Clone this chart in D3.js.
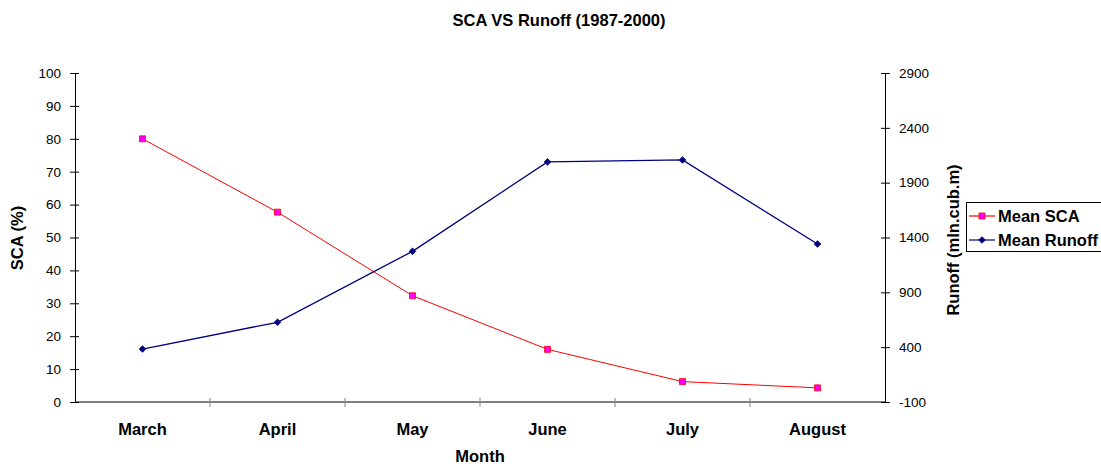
<!DOCTYPE html>
<html>
<head>
<meta charset="utf-8">
<script src="https://cdn.jsdelivr.net/npm/d3@7"></script>
<style>
  html, body { margin: 0; padding: 0; background: #fff; }
  svg { display: block; font-family: "Liberation Sans", Arial, sans-serif; }
</style>
</head>
<body>
<svg id="chart" width="1101" height="464"></svg>
<script>
// Monthly means, 1987-2000
const months = ["March", "April", "May", "June", "July", "August"];
const meanSCA = [80, 57.7, 32.3, 16.0, 6.2, 4.3];
const meanRunoff = [383, 627, 1274, 2089, 2107, 1341];
const scaTicks = [0, 10, 20, 30, 40, 50, 60, 70, 80, 90, 100];
const runoffTicks = [-100, 400, 900, 1400, 1900, 2400, 2900];

const svg = d3.select("#chart");
const plotLeft = 75, plotRight = 885, plotTop = 73, plotBottom = 402;

const x = d3.scaleBand().domain(months).range([plotLeft, plotRight]);
const yL = d3.scaleLinear().domain([0, 100]).range([plotBottom, plotTop]);
const yR = d3.scaleLinear().domain([-100, 2900]).range([plotBottom, plotTop]);
const cx = m => x(m) + x.bandwidth() / 2;

// Title
svg.append("text").attr("x", 559).attr("y", 26).attr("text-anchor", "middle")
  .attr("font-size", 16.5).attr("font-weight", "bold").text("SCA VS Runoff (1987-2000)");

// X axis: gray baseline with ticks at category boundaries
const xg = svg.append("g");
xg.append("line").attr("x1", plotLeft).attr("x2", plotRight).attr("y1", plotBottom).attr("y2", plotBottom)
  .attr("stroke", "#808080").attr("stroke-width", 2);
months.forEach((m, i) => {
  if (i > 0) {
    xg.append("line").attr("x1", x(m)).attr("x2", x(m)).attr("y1", plotBottom - 4).attr("y2", plotBottom + 5)
      .attr("stroke", "#808080").attr("stroke-width", 1);
  }
  xg.append("text").attr("x", cx(m)).attr("y", 435).attr("text-anchor", "middle")
    .attr("font-size", 16.5).attr("font-weight", "bold").text(m);
});
svg.append("text").attr("x", 480).attr("y", 462).attr("text-anchor", "middle")
  .attr("font-size", 16.5).attr("font-weight", "bold").text("Month");

const fmt = d => String(d).replace("\u2212", "-");

// Left axis
const gl = svg.append("g").attr("transform", `translate(${plotLeft},0)`)
  .call(d3.axisLeft(yL).tickValues(scaTicks).tickFormat(fmt).tickSize(5).tickSizeOuter(0).tickPadding(9));
gl.select(".domain").attr("stroke", "#000");
gl.selectAll(".tick line").attr("x2", -5).attr("x1", 4).attr("stroke", "#000");
gl.selectAll(".tick text").attr("font-size", 13.5).attr("font-family", "Liberation Sans, Arial, sans-serif").attr("fill", "#000");
svg.append("text").attr("transform", "translate(23,238) rotate(-90)").attr("text-anchor", "middle")
  .attr("font-size", 16.5).attr("font-weight", "bold").text("SCA (%)");

// Right axis
const gr = svg.append("g").attr("transform", `translate(${plotRight},0)`)
  .call(d3.axisRight(yR).tickValues(runoffTicks).tickFormat(fmt).tickSize(5).tickSizeOuter(0).tickPadding(9));
gr.select(".domain").attr("stroke", "#000");
gr.selectAll(".tick line").attr("x1", -4).attr("x2", 5).attr("stroke", "#000");
gr.selectAll(".tick text").attr("font-size", 13.5).attr("font-family", "Liberation Sans, Arial, sans-serif").attr("fill", "#000");
svg.append("text").attr("transform", "translate(959,240) rotate(-90)").attr("text-anchor", "middle")
  .attr("font-size", 16.5).attr("font-weight", "bold").text("Runoff (mln.cub.m)");

// Series lines
const lineSCA = d3.line().x((d, i) => cx(months[i])).y(d => yL(d));
const lineRun = d3.line().x((d, i) => cx(months[i])).y(d => yR(d));
svg.append("path").attr("d", lineSCA(meanSCA)).attr("fill", "none").attr("stroke", "#FF0000").attr("stroke-width", 1);
svg.append("path").attr("d", lineRun(meanRunoff)).attr("fill", "none").attr("stroke", "#000080").attr("stroke-width", 1.3);

// Markers
const sq = d3.symbol().type(d3.symbolSquare).size(36);
const dm = d3.symbol().type(d3.symbolSquare).size(22);
svg.selectAll(".sca").data(meanSCA).enter().append("path")
  .attr("d", sq).attr("transform", (d, i) => `translate(${cx(months[i])},${yL(d)})`)
  .attr("fill", "#FF00FF").attr("stroke", "#FF0000").attr("stroke-width", 0.8);
svg.selectAll(".run").data(meanRunoff).enter().append("path")
  .attr("d", dm).attr("transform", (d, i) => `translate(${cx(months[i])},${yR(d)}) rotate(45)`)
  .attr("fill", "#000080").attr("stroke", "#000080").attr("stroke-width", 0.8);

// Legend
const lg = svg.append("g");
lg.append("rect").attr("x", 966.5).attr("y", 202.5).attr("width", 140).attr("height", 49)
  .attr("fill", "#fff").attr("stroke", "#000").attr("stroke-width", 1);
const items = [
  { name: "Mean SCA", color: "#FF0000", fill: "#FF00FF", sym: sq, rot: 0, y: 216 },
  { name: "Mean Runoff", color: "#000080", fill: "#000080", sym: dm, rot: 45, y: 240 }
];
items.forEach(it => {
  lg.append("line").attr("x1", 969).attr("x2", 995).attr("y1", it.y).attr("y2", it.y)
    .attr("stroke", it.color).attr("stroke-width", 1.2);
  lg.append("path").attr("d", it.sym).attr("transform", `translate(982,${it.y}) rotate(${it.rot})`)
    .attr("fill", it.fill).attr("stroke", it.color).attr("stroke-width", 0.8);
  lg.append("text").attr("x", 998).attr("y", it.y + 6).attr("font-size", 16.5)
    .attr("font-weight", "bold").text(it.name);
});
</script>
</body>
</html>
